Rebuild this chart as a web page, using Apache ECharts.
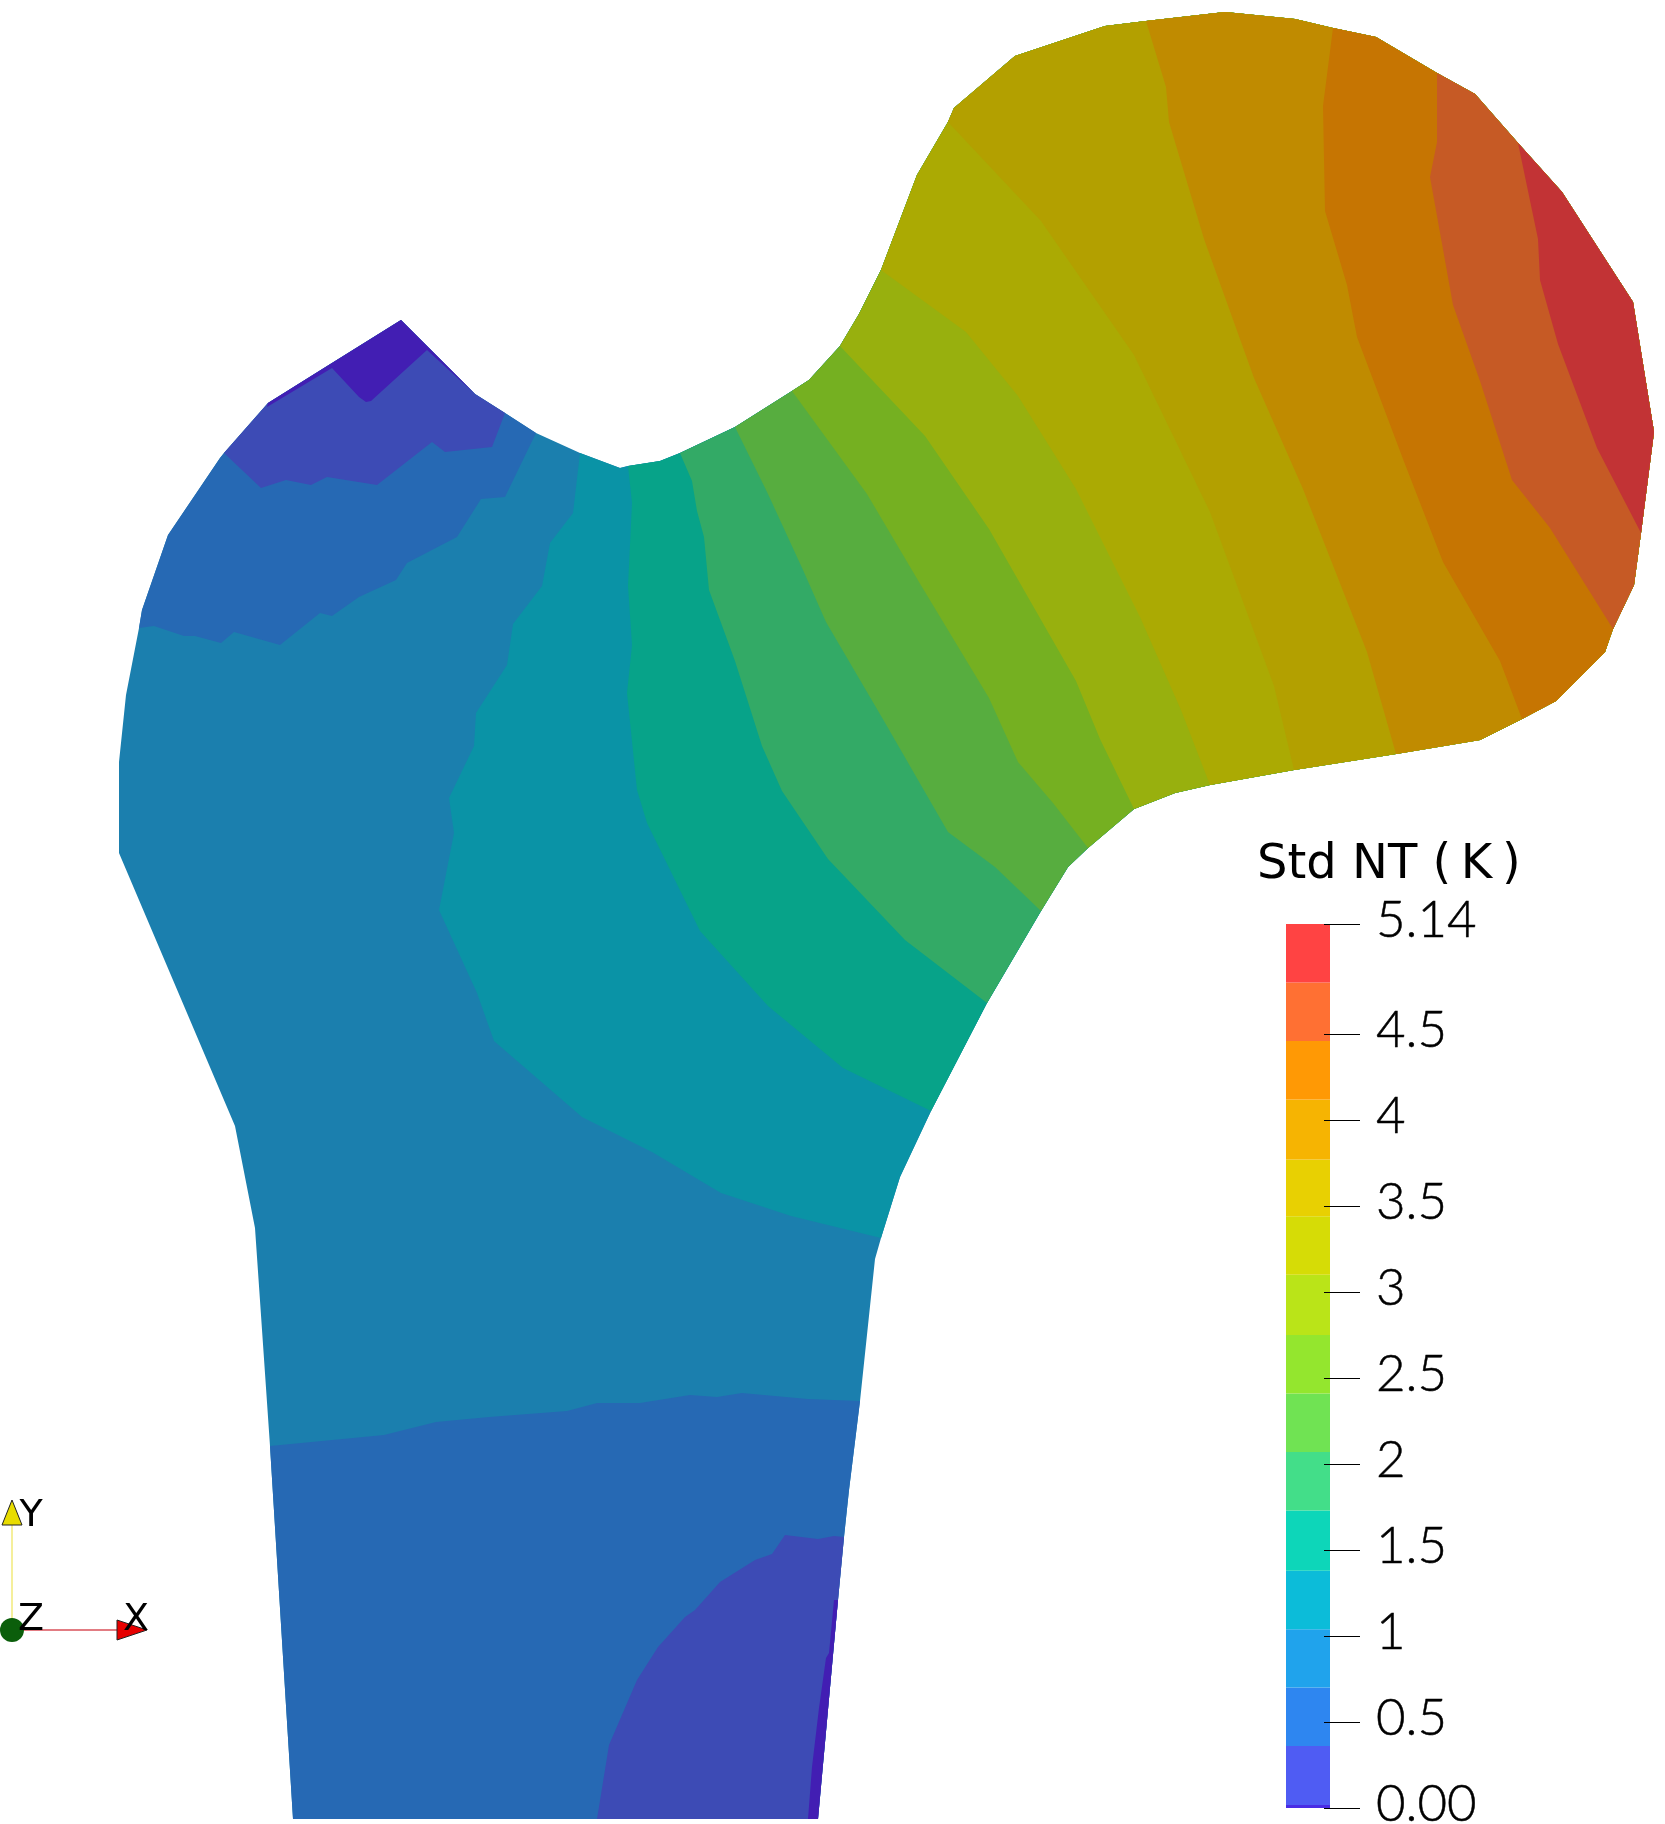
<!DOCTYPE html>
<html>
<head>
<meta charset="utf-8">
<title>Std NT</title>
<style>
html, body { margin: 0; padding: 0; background: #fff; }
#main { width: 1665px; height: 1824px; }
</style>
<script src="https://cdn.jsdelivr.net/npm/echarts@6/dist/echarts.min.js"></script>
</head>
<body>
<div id="main"></div>
<script>
// model outline, clockwise from the bottom left corner, y grows downwards
var outline = [[293,1819],[270,1446],[255,1228],[235,1126],[119,853],[119,762],[126,695],[139,628],[142,610],[168,535],[220,458],[224,453],[268,403],[332,363],[401,320],[427,346],[475,394],[505,413],[536,433],[580,453],[620,468],[628,466],[660,461],[680,453],[735,427],[792,391],[809,380],[840,346],[859,314],[881,270],[917,175],[948,122],[954,108],[1015,56],[1105,26],[1146,21],[1225,12],[1295,19],[1333,28],[1376,37],[1437,73],[1475,94],[1518,143],[1562,192],[1633,302],[1654,432],[1641,533],[1634,585],[1613,629],[1605,652],[1556,701],[1522,719],[1480,740],[1396,754],[1294,770],[1210,785],[1175,793],[1134,809],[1088,848],[1068,867],[1041,911],[987,1003],[931,1111],[900,1177],[881,1238],[875,1259],[860,1401],[849,1490],[844,1537],[838,1600],[818,1819],[808,1819],[597,1819]];

// contour bands, lower side
var levelBlueTop = [[139,628],[154,626],[184,636],[195,636],[221,643],[234,632],[280,645],[320,613],[332,616],[359,597],[396,580],[407,563],[457,537],[481,499],[505,497],[536,433]];
var levelPurpleTop = [[224,453],[261,488],[286,480],[311,485],[327,477],[377,485],[432,442],[445,452],[492,447],[505,413]];
var levelDeepTop = [[268,403],[267,407],[332,368],[359,397],[366,402],[371,401],[427,350],[475,394]];
var levelBlueBottom = [[860,1401],[808,1399],[742,1393],[717,1397],[690,1395],[640,1403],[597,1403],[567,1411],[489,1417],[436,1422],[384,1435],[270,1446]];
var levelPurpleBottom = [[844,1537],[834,1536],[818,1539],[785,1535],[772,1554],[755,1560],[720,1582],[695,1610],[685,1617],[658,1647],[637,1680],[609,1745],[597,1819]];
var levelDeepBottom = [[838,1600],[834,1600],[829,1653],[826,1658],[819,1708],[812,1767],[808,1819]];

// contour bands, going up towards the head
var level1 = [[580,453],[573,513],[550,543],[542,586],[513,624],[507,665],[476,713],[474,746],[449,798],[454,833],[439,910],[477,993],[494,1041],[582,1117],[652,1152],[721,1193],[791,1216],[881,1238]];
var level2 = [[628,466],[632,503],[628,586],[632,645],[627,693],[637,790],[647,823],[700,931],[768,1006],[843,1068],[931,1111]];
var level3 = [[680,453],[692,481],[697,511],[704,537],[709,590],[735,661],[762,746],[782,791],[828,859],[905,940],[987,1003]];
var level4 = [[735,427],[768,494],[803,570],[826,622],[884,721],[948,832],[995,867],[1041,911]];
var level5 = [[792,391],[867,494],[919,582],[989,698],[1018,762],[1053,803],[1088,848]];
var level6 = [[840,346],[925,436],[989,529],[1076,681],[1100,739],[1134,809]];
var level7 = [[881,270],[966,332],[1018,396],[1076,489],[1140,617],[1181,710],[1210,785]];
var level8 = [[948,122],[1041,221],[1134,355],[1210,512],[1274,686],[1294,770]];
var level9 = [[1146,21],[1166,87],[1169,122],[1204,239],[1254,378],[1303,489],[1367,652],[1396,754]];
var level10 = [[1333,28],[1323,106],[1325,211],[1347,285],[1357,337],[1403,459],[1443,562],[1500,661],[1522,719]];
var level11 = [[1437,73],[1437,142],[1430,177],[1453,305],[1480,381],[1512,480],[1550,528],[1613,629]];
var level12 = [[1518,143],[1538,239],[1540,280],[1558,344],[1597,448],[1641,533]];

var fieldLevels = [null, level1, level2, level3, level4, level5, level6, level7, level8, level9, level10, level11, level12, levelBlueTop, levelPurpleTop, levelDeepTop, levelBlueBottom, levelPurpleBottom, levelDeepBottom];
var fieldColors = ['#1b7fae', '#0a93a6', '#07a389', '#33aa66', '#57ad3f', '#75b021', '#98b00e', '#abaa03', '#b3a000', '#c08b00', '#c67502', '#c65a25', '#c23335', '#2669b4', '#3d4bb5', '#421eb3', '#2669b4', '#3d4bb5', '#421eb3'];

// colour bar
var barEdges = [0, 0.017, 0.36, 0.70, 1.04, 1.38, 1.73, 2.07, 2.41, 2.75, 3.10, 3.44, 3.77, 4.12, 4.46, 4.80, 5.14];
var barColors = ['#4a2ce5', '#4f5cf3', '#2e86f0', '#20a3ec', '#0cbcd9', '#0dd6b9', '#43de89', '#70e353', '#94e62e', '#bae418', '#d6dc06', '#e8d002', '#f6b402', '#ff9905', '#ff7033', '#ff4343'];
var tickValues = [0, 0.5, 1, 1.5, 2, 2.5, 3, 3.5, 4, 4.5, 5.14];
var tickLabels = ['0.00', '0.5', '1', '1.5', '2', '2.5', '3', '3.5', '4', '4.5', '5.14'];

// orientation triad
var triadShafts = [
    {color: '#f2ea7a', points: [[12,1630],[12,1525]]},
    {color: '#d9505a', points: [[12,1630],[117,1630]]}
];
var triadCones = [
    {color: '#e8dc00', points: [[12,1500],[2,1525],[22,1525]]},
    {color: '#e60000', points: [[147,1630],[117,1620],[117,1640]]}
];
var triadOrigin = [12, 1630];
var triadLabels = [['Y', 31, 1516], ['Z', 31, 1620], ['X', 136, 1620]];

function nearestVertex(p) {
    var best = 0, bestD = Infinity;
    outline.forEach(function (q, i) {
        var d = (q[0] - p[0]) * (q[0] - p[0]) + (q[1] - p[1]) * (q[1] - p[1]);
        if (d < bestD) { bestD = d; best = i; }
    });
    return best;
}

// region = walk along the outline from the contour's start to its end, then back down the contour
function regionOf(level) {
    if (!level) return outline;
    var a = nearestVertex(level[0]);
    var b = nearestVertex(level[level.length - 1]);
    var pts = [];
    for (var i = a; i !== b; i = (i + 1) % outline.length) pts.push(outline[i]);
    pts.push(outline[b]);
    return pts.concat(level.slice().reverse());
}
var regions = fieldLevels.map(regionOf);

var option = {
    animation: false,
    backgroundColor: '#fff',
    title: {
        text: 'Std NT (\u2009K\u2009)',
        left: 1252,
        top: 837,
        textStyle: {fontFamily: 'DejaVu Sans', fontWeight: 'normal', fontSize: 48, color: '#000'}
    },
    grid: [
        {left: 0, top: 0, width: 1665, height: 1824, outerBoundsMode: 'none'},
        {left: 1286, top: 924, width: 44, height: 884, outerBoundsMode: 'none'}
    ],
    xAxis: [
        {gridIndex: 0, type: 'value', min: 0, max: 1665, show: false},
        {gridIndex: 1, type: 'value', min: 0, max: 1, show: false}
    ],
    yAxis: [
        {gridIndex: 0, type: 'value', min: 0, max: 1824, inverse: true, show: false},
        {
            gridIndex: 1,
            type: 'value',
            min: 0,
            max: 5.14,
            position: 'right',
            offset: -6,
            z: 5,
            axisLine: {show: false, onZero: false},
            splitLine: {show: false},
            axisTick: {
                show: true,
                length: 36,
                customValues: tickValues,
                lineStyle: {color: '#000', width: 1}
            },
            axisLabel: {
                show: true,
                customValues: tickValues,
                margin: 52,
                color: '#000',
                fontFamily: 'Lato',
                fontWeight: 300,
                fontSize: 51,
                textBorderColor: '#000',
                textBorderWidth: 0.5,
                verticalAlign: 'bottom',
                lineHeight: 7,
                formatter: function (v) {
                    return tickLabels[tickValues.indexOf(v)];
                }
            }
        }
    ],
    series: [
        {
            name: 'field',
            type: 'custom',
            coordinateSystem: 'cartesian2d',
            xAxisIndex: 0,
            yAxisIndex: 0,
            clip: false,
            silent: true,
            data: regions.map(function (r, i) { return [i]; }),
            renderItem: function (params, api) {
                var i = params.dataIndex;
                return {
                    type: 'polygon',
                    shape: {points: regions[i].map(function (p) { return api.coord(p); })},
                    style: {fill: fieldColors[i]}
                };
            }
        },
        {
            name: 'colour bar',
            type: 'custom',
            coordinateSystem: 'cartesian2d',
            xAxisIndex: 1,
            yAxisIndex: 1,
            clip: false,
            silent: true,
            data: barColors.map(function (c, i) { return [i]; }),
            renderItem: function (params, api) {
                var i = params.dataIndex;
                var a = api.coord([0, barEdges[i + 1]]);
                var b = api.coord([1, barEdges[i]]);
                return {
                    type: 'rect',
                    shape: {x: a[0], y: a[1], width: b[0] - a[0], height: b[1] - a[1]},
                    style: {fill: barColors[i]}
                };
            },
            z: 1
        },
        {
            name: 'triad',
            type: 'custom',
            coordinateSystem: 'cartesian2d',
            xAxisIndex: 0,
            yAxisIndex: 0,
            clip: false,
            silent: true,
            z: 3,
            data: [[0]],
            renderItem: function (params, api) {
                var kids = [];
                triadShafts.forEach(function (s) {
                    kids.push({
                        type: 'polyline',
                        shape: {points: s.points.map(function (p) { return api.coord(p); })},
                        style: {stroke: s.color, lineWidth: 1.5, fill: 'none'}
                    });
                });
                triadCones.forEach(function (c) {
                    kids.push({
                        type: 'polygon',
                        shape: {points: c.points.map(function (p) { return api.coord(p); })},
                        style: {fill: c.color, stroke: '#222', lineWidth: 1}
                    });
                });
                var o = api.coord(triadOrigin);
                kids.push({
                    type: 'circle',
                    shape: {cx: o[0], cy: o[1], r: 12},
                    style: {fill: '#0b5e0b'}
                });
                triadLabels.forEach(function (l) {
                    var p = api.coord([l[1], l[2]]);
                    kids.push({
                        type: 'text',
                        x: p[0],
                        y: p[1],
                        style: {
                            text: l[0],
                            fill: '#000',
                            font: '38px "DejaVu Sans"',
                            align: 'center',
                            verticalAlign: 'middle'
                        }
                    });
                });
                return {type: 'group', children: kids};
            }
        }
    ]
};

var myChart = echarts.init(document.getElementById('main'));
myChart.setOption(option);
</script>
</body>
</html>
